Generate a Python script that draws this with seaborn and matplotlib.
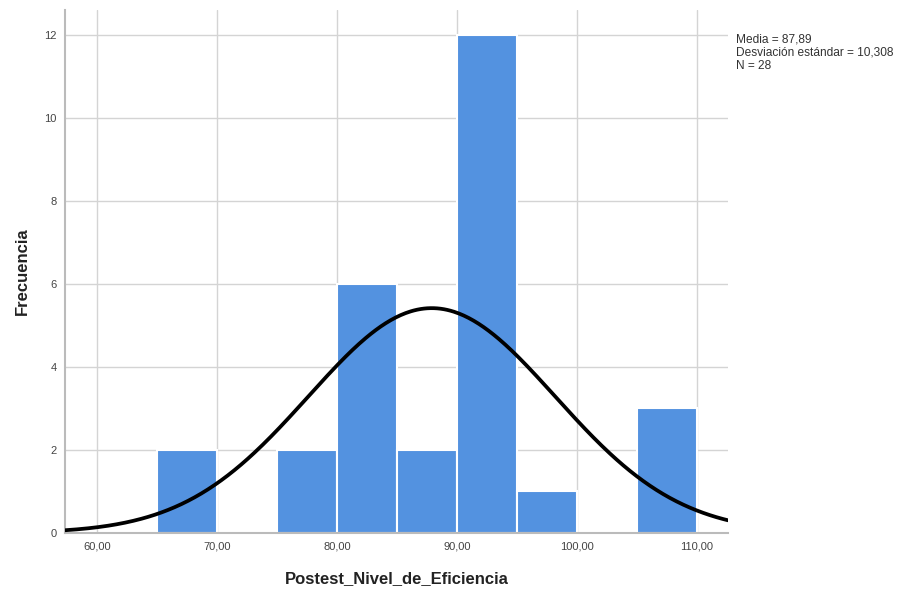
import numpy as np
import pandas as pd
import matplotlib
matplotlib.use("Agg")
import matplotlib.pyplot as plt
import seaborn as sns

# Data
bin_edges = [65, 70, 75, 80, 85, 90, 95, 100, 105, 110]
counts = [2, 0, 2, 6, 2, 12, 1, 0, 3]
mean_val = 87.89
sd_val = 10.308
n_val = 28
x_ticks = [60, 70, 80, 90, 100, 110]
x_tick_labels = ["60,00", "70,00", "80,00", "90,00", "100,00", "110,00"]
y_ticks = [0, 2, 4, 6, 8, 10, 12]

sns.set_theme(style="white")
plt.rcParams['font.family'] = ['Liberation Sans', 'DejaVu Sans']

fig = plt.figure(figsize=(9.07, 5.94), dpi=100)
ax = fig.add_axes([0.0717, 0.1027, 0.7309, 0.8803])

centers = [(bin_edges[i] + bin_edges[i + 1]) / 2 for i in range(len(counts))]
df = pd.DataFrame({"x": centers, "w": counts})
sns.histplot(data=df, x="x", weights="w", bins=bin_edges, ax=ax,
             color="#5392E0", alpha=1.0, edgecolor="white", linewidth=1.5, zorder=2)

binw = bin_edges[1] - bin_edges[0]
xs = np.linspace(57.3, 112.6, 400)
ys = n_val * binw * np.exp(-0.5 * ((xs - mean_val) / sd_val) ** 2) / (sd_val * np.sqrt(2 * np.pi))
sns.lineplot(x=xs, y=ys, ax=ax, color="black", linewidth=2.7, zorder=3)

ax.set_xlim(57.3, 112.6)
ax.set_ylim(0, 12.6)
ax.set_xticks(x_ticks)
ax.set_xticklabels(x_tick_labels)
ax.set_yticks(y_ticks)
ax.tick_params(axis="both", labelsize=8, colors="#444444", length=0, pad=6)
ax.grid(True, color="#d4d4d4", linewidth=1.0, zorder=0)
ax.set_axisbelow(True)
for s in ["top", "right"]:
    ax.spines[s].set_visible(False)
for s in ["left", "bottom"]:
    ax.spines[s].set_color("#bbbbbb")
    ax.spines[s].set_linewidth(1.5)

ax.set_xlabel("Postest_Nivel_de_Eficiencia", fontsize=12, fontweight="bold", color="#222222", labelpad=14)
ax.set_ylabel("Frecuencia", fontsize=12, fontweight="bold", color="#222222", labelpad=10)

fig.text(0.812, 0.943, "Media = 87,89\nDesviación estándar = 10,308\nN = 28",
         fontsize=8.6, color="#333333", va="top", ha="left", linespacing=1.1)

fig.savefig("out.png", dpi=100)
